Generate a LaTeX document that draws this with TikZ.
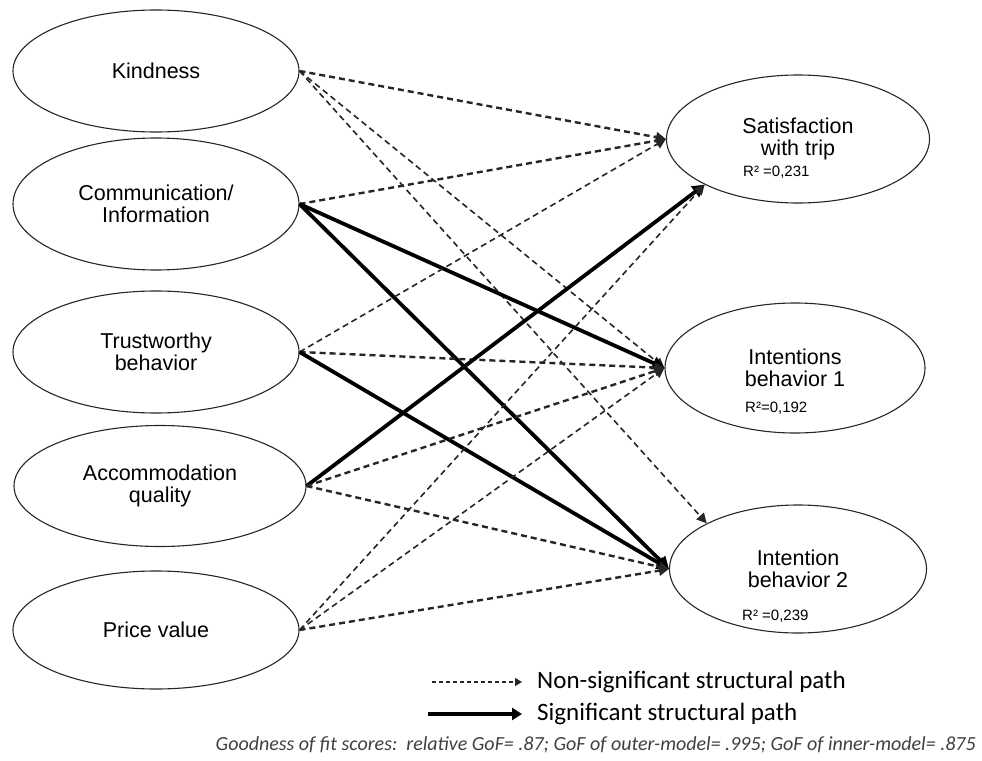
\documentclass[tikz,border=0pt]{standalone}
\usepackage{fontspec}
\setmainfont{Liberation Sans}
\newfontfamily\legendfont{Carlito}
\usepackage{tikz}
\usetikzlibrary{shapes.geometric, arrows.meta}

\begin{document}
\begin{tikzpicture}[x=1pt,y=-1pt,
	construct/.style={draw=black!85,line width=1.1pt,ellipse,inner sep=0pt,align=center,font=\fontsize{21.5}{22}\selectfont},
	nonsig/.style={black!85,line width=2.4pt,dash pattern=on 6pt off 4pt,-{Triangle[length=10pt,width=10pt]}},
	nonsigthin/.style={nonsig,line width=1.6pt},
	sig/.style={black,line width=3.8pt,-{Triangle[length=12pt,width=13pt]}},
	rsq/.style={anchor=base west,inner sep=0pt,font=\fontsize{15}{16}\selectfont},
	legtext/.style={anchor=west,inner sep=0pt,font=\legendfont\fontsize{25}{27}\selectfont},
	legnonsig/.style={black!85,line width=1.4pt,dash pattern=on 4pt off 3pt,-{Triangle[length=7pt,width=8pt]}},
	legsig/.style={black,line width=3.5pt,-{Triangle[length=10pt,width=12pt]}}]
	\useasboundingbox (0,0) rectangle (982,760);
	
	%antecedents
	\node[construct,minimum width=286pt,minimum height=122pt] (kind)  at (156,71)  {Kindness};
	\node[construct,minimum width=286pt,minimum height=132pt] (comm)  at (156,204) {Communication/\\Information};
	\node[construct,minimum width=286pt,minimum height=122pt] (trust) at (156,352) {Trustworthy\\behavior};
	\node[construct,minimum width=292pt,minimum height=121pt] (accom) at (160,486) {Accommodation\\quality};
	\node[construct,minimum width=286pt,minimum height=118pt] (price) at (156,630) {Price value};
	
	%outcomes
	\node[construct,minimum width=263pt,minimum height=128pt] (sat)  at (798,139) {Satisfaction\\with trip};
	\node[construct,minimum width=260pt,minimum height=130pt] (int1) at (795,368) {Intentions\\behavior 1};
	\node[construct,minimum width=257pt,minimum height=128pt] (int2) at (798,569) {Intention\\behavior 2};
	%
	\node[rsq] (rsat)  at (743,176) {R² =0,231};
	\node[rsq] (rint1) at (745,412) {R²=0,192};
	\node[rsq] (rint2) at (742,620) {R² =0,239};
	
	%paths
	\draw[nonsig]     (kind.east)  -- (sat.west);
	\draw[nonsigthin] (kind.east)  -- (int1.west);
	\draw[nonsigthin] (kind.east)  -- (int2.north west);
	%
	\draw[nonsig]     (comm.east)  -- (sat.west);
	\draw[sig]        (comm.east)  -- (int1.west);
	\draw[sig]        (comm.east)  -- (int2.west);
	%
	\draw[nonsigthin] (trust.east) -- (sat.west);
	\draw[nonsig]     (trust.east) -- (int1.west);
	\draw[sig]        (trust.east) -- (int2.west);
	%
	\draw[sig]        (accom.east) -- (sat.south west);
	\draw[nonsig]     (accom.east) -- (int1.west);
	\draw[nonsig]     (accom.east) -- (int2.west);
	%
	\draw[nonsigthin] (price.east) -- (sat.south west);
	\draw[nonsigthin] (price.east) -- (int1.west);
	\draw[nonsig]     (price.east) -- (int2.west);
	
	%legend
	\coordinate (nsA) at (432,682);
	\coordinate (nsB) at (522,682);
	\coordinate (sgA) at (428,714);
	\coordinate (sgB) at (522,714);
	\node[legtext] (nstxt) at (537,682) {Non-significant structural path};
	\node[legtext] (sgtxt) at (537,714) {Significant structural path};
	\draw[legnonsig] (nsA) -- (nsB);
	\draw[legsig]    (sgA) -- (sgB);
	
	%fit scores
	\node[anchor=east,inner sep=0pt,text=black!75,font=\legendfont\itshape\fontsize{20}{22}\selectfont] (gof) at (976,745) {Goodness of fit scores:\ \ relative GoF= .87; GoF of outer-model= .995; GoF of inner-model= .875};
\end{tikzpicture}
\end{document}
